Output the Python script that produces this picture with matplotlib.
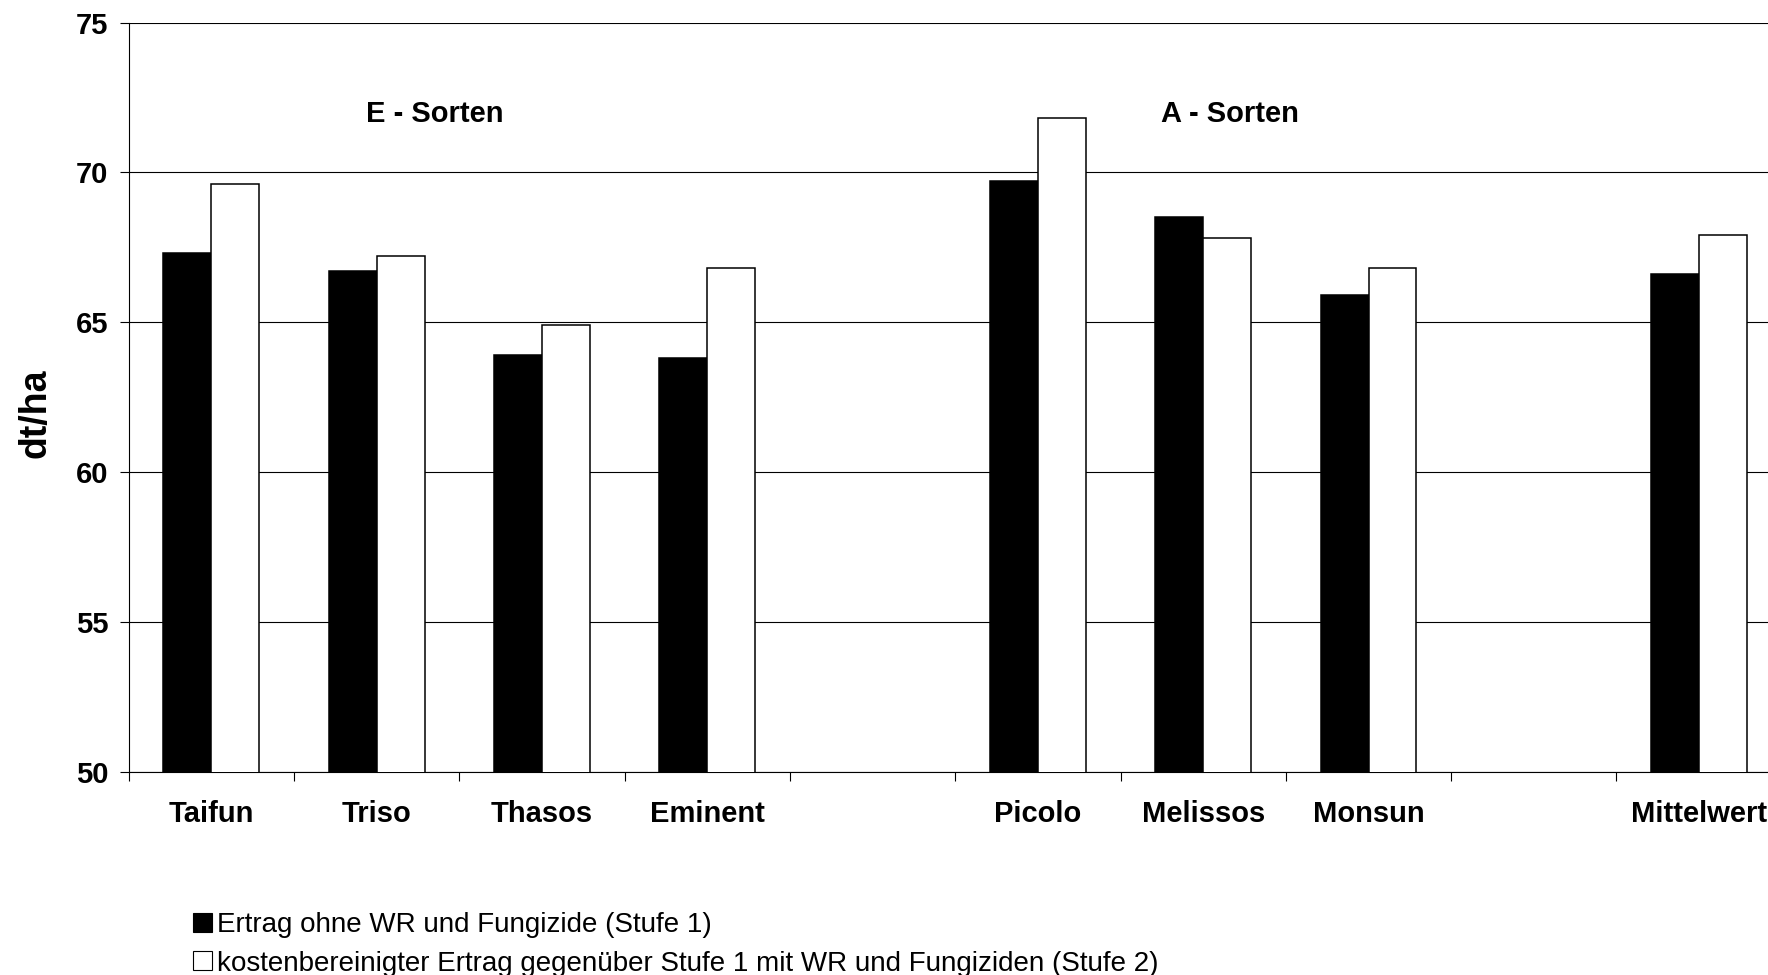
import numpy as np
import matplotlib
matplotlib.use("Agg")
import matplotlib.pyplot as plt
from matplotlib.patches import Patch

plt.rcParams["font.family"] = ["Liberation Sans", "DejaVu Sans"]

# Sorten (leere Plätze trennen die Gruppen)
sorten = ["Taifun", "Triso", "Thasos", "Eminent", "", "Picolo", "Melissos", "Monsun", "", "Mittelwert"]
stufe1 = [67.3, 66.7, 63.9, 63.8, np.nan, 69.7, 68.5, 65.9, np.nan, 66.6]
stufe2 = [69.6, 67.2, 64.9, 66.8, np.nan, 71.8, 67.8, 66.8, np.nan, 67.9]

gruppen = ["E - Sorten", "A - Sorten"]
gruppen_x = [1.35, 6.16]

label1 = "Ertrag ohne WR und Fungizide (Stufe 1)"
label2 = "kostenbereinigter Ertrag gegenüber Stufe 1 mit WR und Fungiziden (Stufe 2)"

fig = plt.figure(figsize=(17.68, 9.75), dpi=100)
ax = fig.add_axes([0.0728, 0.2082, 0.9350, 0.7687])

x = np.arange(len(sorten))
w = 0.29
ax.bar(x - w / 2, stufe1, w, color="black", edgecolor="black", linewidth=1.1, zorder=3)
ax.bar(x + w / 2, stufe2, w, color="white", edgecolor="black", linewidth=1.1, zorder=3)

ax.set_xlim(-0.5, len(sorten) - 0.5)
ax.set_ylim(50, 75)
ax.set_yticks([50, 55, 60, 65, 70, 75])
ax.yaxis.grid(True, color="black", linewidth=0.8, zorder=0)
ax.set_axisbelow(True)

# Striche an den Grenzen, Namen in der Mitte
ax.set_xticks(np.arange(len(sorten)) - 0.5)
ax.set_xticklabels([])
ax.set_xticks(x, minor=True)
ax.set_xticklabels(sorten, minor=True, fontsize=21, fontweight="bold")
ax.tick_params(axis="x", which="major", length=6.5, width=0.8, direction="out")
ax.tick_params(axis="x", which="minor", length=0, pad=20)
ax.tick_params(axis="y", length=6.5, width=0.8, pad=8, labelsize=21)
for t in ax.get_yticklabels():
    t.set_fontweight("bold")

for s in ["top", "right"]:
    ax.spines[s].set_visible(False)
ax.spines["left"].set_linewidth(0.8)
ax.spines["bottom"].set_linewidth(0.8)

ax.set_ylabel("dt/ha", fontsize=27, fontweight="bold", va="center")
ax.yaxis.set_label_coords(-0.0565, 0.479)

for name, gx in zip(gruppen, gruppen_x):
    ax.text(gx, 71.95, name, ha="center", va="center", fontsize=21, fontweight="bold")

handles = [Patch(facecolor="black", edgecolor="black", linewidth=0.8, label=label1),
           Patch(facecolor="white", edgecolor="black", linewidth=0.8, label=label2)]
fig.legend(handles=handles, loc="upper left", bbox_to_anchor=(0.109, 0.0645),
           frameon=False, fontsize=20, handlelength=0.68, handleheight=0.68,
           handletextpad=0.2, labelspacing=0.45, borderpad=0, borderaxespad=0)

fig.savefig("out.png", dpi=100)
